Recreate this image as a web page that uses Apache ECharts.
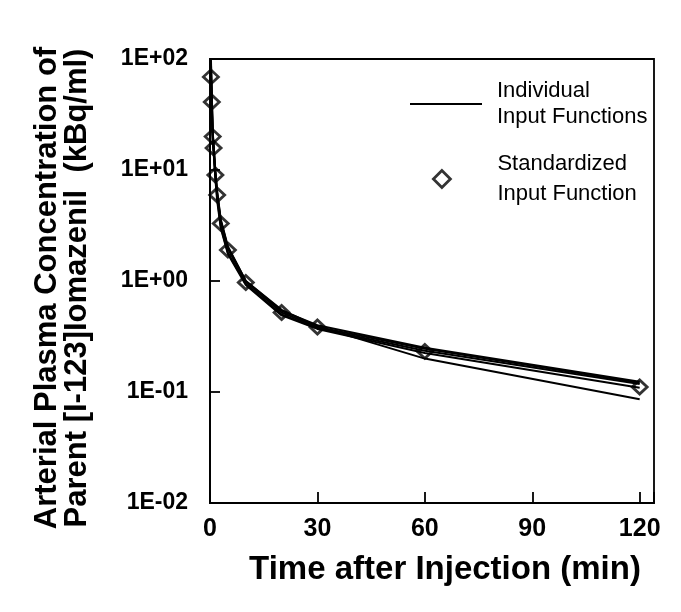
<!DOCTYPE html>
<html>
<head>
<meta charset="utf-8">
<script src="https://cdn.jsdelivr.net/npm/echarts@6/dist/echarts.min.js"></script>
<style>
html,body{margin:0;padding:0;background:#fff;}
#chart{width:681px;height:612px;}
</style>
</head>
<body>
<div id="chart"></div>
<script>
// ---- data ----
const times = [0.25, 0.5, 0.75, 1, 1.5, 2, 3, 5, 10, 20, 30, 60, 120];
const standardized = [69, 41, 20, 15.8, 9, 5.95, 3.3, 1.9, 0.97, 0.52, 0.385, 0.232, 0.111];
const individual1 = [105, 45, 22, 16.5, 9.6, 6.3, 3.5, 2.0, 1.0, 0.54, 0.40, 0.25, 0.124];
const individual2 = [88, 38, 18.5, 14.5, 8.6, 5.7, 3.1, 1.8, 0.94, 0.50, 0.375, 0.235, 0.118];
const individual3 = [72, 43, 21, 17, 9.9, 6.4, 3.6, 2.05, 1.0, 0.55, 0.39, 0.20, 0.086];
const individual4 = [62, 36, 19, 15, 8.3, 5.3, 3.0, 1.75, 0.92, 0.49, 0.37, 0.225, 0.109];
const individual5 = [95, 48, 23, 16, 9.2, 6.0, 3.4, 1.95, 0.98, 0.52, 0.385, 0.245, 0.121];
const individuals = [individual1, individual2, individual3, individual4, individual5];
const xTickValues = [0, 30, 60, 90, 120];
const yTickLabels = ['1E-02', '1E-01', '1E+00', '1E+01', '1E+02'];
const nameIndividual = 'Individual\nInput Functions';
const nameStandard = 'Standardized\nInput Function';

const FONT = '"Liberation Sans", Arial, Helvetica, sans-serif';
const chart = echarts.init(document.getElementById('chart'), null, {renderer: 'canvas'});

const pair = arr => times.map((t, i) => [t, arr[i]]);

const series = individuals.map(arr => ({
  name: nameIndividual,
  type: 'line',
  data: pair(arr),
  symbol: 'none',
  lineStyle: {color: '#000', width: 2},
  itemStyle: {color: '#000'},
  z: 2
}));
series.push({
  name: nameStandard,
  type: 'scatter',
  data: pair(standardized),
  symbol: 'diamond',
  symbolSize: [15, 14],
  itemStyle: {color: 'rgba(0,0,0,0)', borderColor: '#000', borderWidth: 2.8},
  z: 3
});

chart.setOption({
  animation: false,
  backgroundColor: '#fff',
  textStyle: {fontFamily: FONT},
  grid: {left: 210, right: 27, top: 59, bottom: 109, show: true, borderColor: '#000', borderWidth: 1.8, containLabel: false},
  legend: [
    {
      data: [{name: nameIndividual, icon: 'rect'}],
      left: 405, top: 73,
      itemWidth: 72, itemHeight: 2,
      textStyle: {fontSize: 22, color: '#000', fontFamily: FONT, lineHeight: 26, padding: [0, 0, 0, 10]},
      selectedMode: false
    },
    {
      data: [{name: nameStandard, icon: 'diamond'}],
      left: 427, top: 144,
      itemWidth: 17, itemHeight: 17,
      itemStyle: {color: 'rgba(0,0,0,0)', borderColor: '#000', borderWidth: 2.8},
      textStyle: {fontSize: 22, color: '#000', fontFamily: FONT, lineHeight: 30, padding: [0, 0, 0, 42]},
      selectedMode: false
    }
  ],
  xAxis: {
    type: 'value',
    min: 0, max: 124, interval: 30,
    name: 'Time after Injection (min)',
    nameLocation: 'middle',
    nameGap: 50,
    nameTextStyle: {fontSize: 33, fontWeight: 'bold', color: '#000', fontFamily: FONT, padding: [0, 0, 0, 26]},
    axisLine: {lineStyle: {color: '#000', width: 1.8}},
    axisTick: {inside: true, length: 11, lineStyle: {color: '#000', width: 1.8}},
    axisLabel: {
      fontSize: 25, fontWeight: 'bold', color: '#000', margin: 14,
      formatter: v => (xTickValues.indexOf(v) >= 0 ? String(v) : ''),
      showMaxLabel: true
    },
    splitLine: {show: false}
  },
  yAxis: {
    type: 'log',
    logBase: 10,
    min: 0.01, max: 100,
    name: 'Arterial Plasma Concentration of\nParent [I-123]Iomazenil  (kBq/ml)',
    nameLocation: 'middle',
    nameRotate: 90,
    nameGap: 118,
    nameTextStyle: {fontSize: 31, fontWeight: 'bold', color: '#000', fontFamily: FONT, lineHeight: 30, padding: [0, 14, 0, 0]},
    axisLine: {lineStyle: {color: '#000', width: 1.8}},
    axisTick: {inside: true, length: 10, lineStyle: {color: '#000', width: 1.8}},
    axisLabel: {
      fontSize: 23, fontWeight: 'bold', color: '#000', margin: 22,
      formatter: v => yTickLabels[Math.round(Math.log10(v)) + 2]
    },
    splitLine: {show: false},
    minorTick: {show: false}
  },
  series: series
});
</script>
</body>
</html>
